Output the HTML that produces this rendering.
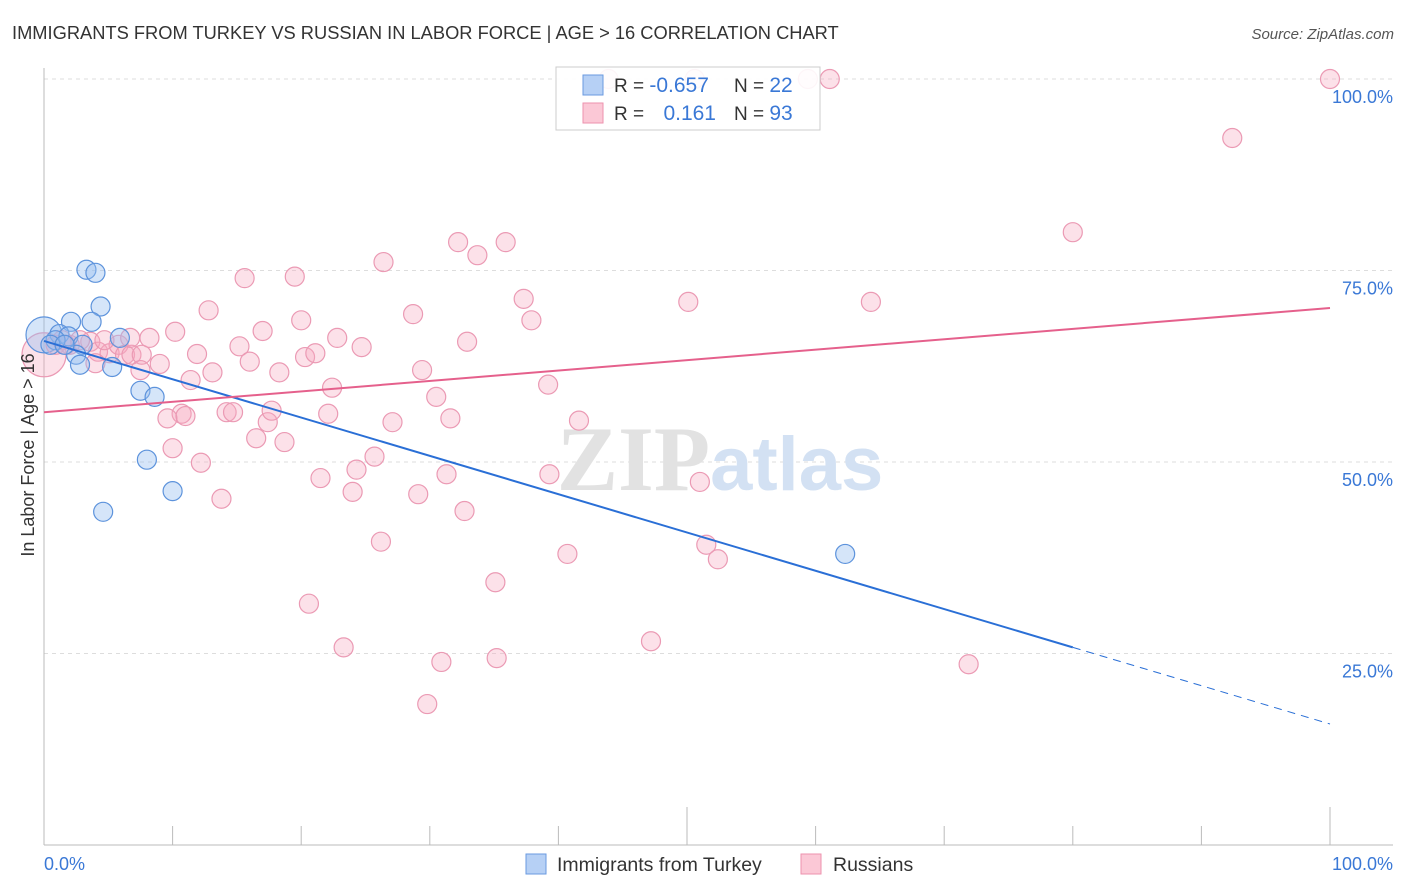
<!DOCTYPE html>
<html><head><meta charset="utf-8"><style>
body{margin:0;background:#fff;font-family:"Liberation Sans",sans-serif;}
svg{display:block}
</style></head><body>
<svg width="1406" height="892" xmlns="http://www.w3.org/2000/svg">
<text x="12" y="39" font-size="18.3" fill="#333">IMMIGRANTS FROM TURKEY VS RUSSIAN IN LABOR FORCE | AGE &gt; 16 CORRELATION CHART</text>
<text x="1394" y="39" font-size="15" fill="#555" text-anchor="end" font-style="italic">Source: ZipAtlas.com</text>
<g id="grid"></g>
<text x="720" y="490" font-size="92" text-anchor="middle"><tspan fill="#e2e2e2" font-family="Liberation Serif,serif" font-weight="bold">ZIP</tspan><tspan fill="#d3e1f3" font-weight="bold" font-size="76">atlas</tspan></text>
<g id="pts"></g>
<g id="lines"></g>
<text transform="translate(34,455) rotate(-90)" font-size="18" fill="#333" text-anchor="middle">In Labor Force | Age &gt; 16</text>
<g>
<rect x="556" y="67" width="264" height="63" fill="#fff" fill-opacity="0.9" stroke="#ccc"/>
<rect x="583" y="75" width="20" height="20" fill="#b6d0f5" stroke="#6a9ae0"/>
<rect x="583" y="103" width="20" height="20" fill="#fbc8d6" stroke="#ec92ae"/>
<text x="614" y="92" font-size="19" fill="#333">R = <tspan fill="#3a78d6" font-size="21">-0.657</tspan></text>
<text x="734" y="92" font-size="19" fill="#333">N = <tspan fill="#3a78d6" font-size="21">22</tspan></text>
<text x="614" y="120" font-size="19" fill="#333">R = </text>
<text x="716" y="120" font-size="21" fill="#3a78d6" text-anchor="end">0.161</text>
<text x="734" y="120" font-size="19" fill="#333">N = <tspan fill="#3a78d6" font-size="21">93</tspan></text>
</g>
<g>
<rect x="526" y="854" width="20" height="20" fill="#b6d0f5" stroke="#6a9ae0"/>
<text x="557" y="871" font-size="19.5" fill="#333">Immigrants from Turkey</text>
<rect x="801" y="854" width="20" height="20" fill="#fbc8d6" stroke="#ec92ae"/>
<text x="833" y="871" font-size="19.5" fill="#333">Russians</text>
</g>
</svg>
<script>
const yTicks=[25,50,75,100];
const yTickLabels=["25.0%","50.0%","75.0%","100.0%"];
const xTicks=[0,10,20,30,40,50,60,70,80,90,100];
const blueX=[3.3,4.0,4.4,3.7,2.1,5.9,1.2,1.9,0.9,3.0,2.5,2.8,5.3,7.5,8.6,8.0,10.0,4.6,62.3,0.5,1.6];
const blueY=[75.1,74.7,70.3,68.3,68.3,66.2,66.7,66.4,65.9,65.3,64.0,62.7,62.4,59.3,58.5,50.3,46.2,43.5,38.0,65.3,65.3];
const pinkX=[0.9,1.4,2.0,3.6,4.2,5.1,5.8,6.3,6.8,7.6,8.2,9.0,7.5,4.0,10.2,10.7,9.6,10.0,11.0,11.4,11.9,12.2,12.8,13.1,13.8,14.2,14.7,15.2,15.6,16.0,16.5,17.0,17.4,17.7,18.3,18.7,19.5,20.0,20.3,20.6,21.1,21.5,22.1,22.4,22.8,23.3,24.0,24.3,24.7,25.7,26.2,26.4,27.1,28.7,29.1,29.4,29.8,30.5,30.9,31.3,31.6,32.2,32.7,32.9,33.7,35.1,35.2,35.9,37.3,37.9,39.2,39.3,40.7,41.6,47.2,50.1,51.0,51.5,52.4,59.4,61.1,64.3,71.9,80.0,92.4,100,1.7,2.8,4.7,6.7,43.9,50.6];
const pinkY=[65.3,65.9,65.3,65.7,64.4,64.2,65.3,64.0,64.0,64.0,66.2,62.8,62.0,62.9,67.0,56.3,55.7,51.8,56.0,60.7,64.1,49.9,69.8,61.7,45.2,56.5,56.5,65.1,74.0,63.1,53.1,67.1,55.2,56.7,61.7,52.6,74.2,68.5,63.7,31.5,64.2,47.9,56.3,59.7,66.2,25.8,46.1,49.0,65.0,50.7,39.6,76.1,55.2,69.3,45.8,62.0,18.4,58.5,23.9,48.4,55.7,78.7,43.6,65.7,77.0,34.3,24.4,78.7,71.3,68.5,60.1,48.4,38.0,55.4,26.6,70.9,47.4,39.2,37.3,100,100,70.9,23.6,80.0,92.3,100,65.3,65.9,65.9,66.2,100,100];
const bigBlue=[0,66.6], bigPink=[0,64.0];
const blueLine=[65.8,15.8], blueSolidEnd=80;
const pinkLine=[56.5,70.1];
const NS="http://www.w3.org/2000/svg";
const sx=v=>44+v*12.86, sy=v=>845-v*7.66;
function mk(t,a,p){const e=document.createElementNS(NS,t);for(const k in a)e.setAttribute(k,a[k]);p.appendChild(e);return e;}
const g=document.getElementById('grid');
yTicks.forEach((t,i)=>{
 const l=mk('line',{x1:44,x2:1393,y1:sy(t),y2:sy(t),stroke:'#ddd','stroke-dasharray':'4 4'},g);
 
 
 const tx=mk('text',{x:1393,y:sy(t)+24,'font-size':18,fill:'#3a78d6','text-anchor':'end'},g);
 tx.textContent=yTickLabels[i];
 
 
});
const ax=mk('line',{x1:44,x2:44,y1:68,y2:845,stroke:'#bbb'},g);


const axx=mk('line',{x1:44,x2:1393,y1:845,y2:845,stroke:'#bbb'},g);


xTicks.forEach(t=>{
 const tall=(t%50===0);
 const l=mk('line',{x1:sx(t),x2:sx(t),y1:tall?807:826,y2:845,stroke:'#bbb'},g);
 
 
});
const x0=mk('text',{x:44,y:870,'font-size':18,fill:'#3a78d6'},g);x0.textContent='0.0%';


const x1=mk('text',{x:1393,y:870,'font-size':18,fill:'#3a78d6','text-anchor':'end'},g);x1.textContent='100.0%';


const P=document.getElementById('pts');
function dot(x,y,r,c){const e=mk('circle',{cx:sx(x),cy:sy(y),r:r,fill:c[0],stroke:c[1],'stroke-width':1.2},P);return e;}
const pc=['rgba(246,170,193,0.35)','#eb9ab4'], bc=['rgba(150,190,240,0.4)','#5d93dc'];
let e=dot(bigPink[0],bigPink[1],22,pc);


e=dot(bigBlue[0],bigBlue[1],18,bc);


pinkX.forEach((x,i)=>{const d=dot(x,pinkY[i],9.5,pc);
 
 });
blueX.forEach((x,i)=>{const d=dot(x,blueY[i],9.5,bc);
 
 });
const L=document.getElementById('lines');
const by=x=>blueLine[0]+(blueLine[1]-blueLine[0])*x/100;
let l=mk('line',{x1:sx(0),y1:sy(by(0)),x2:sx(blueSolidEnd),y2:sy(by(blueSolidEnd)),stroke:'#2a6fd6','stroke-width':2},L);


l=mk('line',{x1:sx(blueSolidEnd),y1:sy(by(blueSolidEnd)),x2:sx(100),y2:sy(by(100)),stroke:'#2a6fd6','stroke-width':1,'stroke-dasharray':'8 6'},L);


l=mk('line',{x1:sx(0),y1:sy(pinkLine[0]),x2:sx(100),y2:sy(pinkLine[1]),stroke:'#e5608c','stroke-width':2},L);


</script>
</body></html>
